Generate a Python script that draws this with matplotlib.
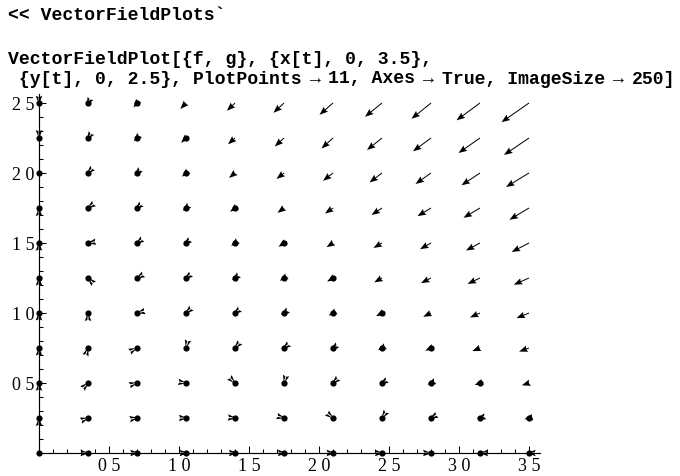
import numpy as np
import matplotlib
matplotlib.use("Agg")
import matplotlib.pyplot as plt
from matplotlib.ticker import FixedLocator, NullFormatter

# ---------------- data ----------------
x_vals = [0.0, 0.35, 0.7, 1.05, 1.4, 1.75, 2.1, 2.45, 2.8, 3.15, 3.5]
y_vals = [0.0, 0.25, 0.5, 0.75, 1.0, 1.25, 1.5, 1.75, 2.0, 2.25, 2.5]

# horizontal component of each arrow (rows: y_vals, columns: x_vals)
U = [
    [0, 1.0, 1.8, 2.2, 2.5, 2.4, 2.1, 1.5, 0.6, -0.5, -1.9],
    [0, 0.8, 1.2, 1.5, 1.4, 1.1, 0.5, -0.4, -1.5, -2.9, -4.6],
    [0, 0.5, 0.7, 0.7, 0.4, -0.2, -1.1, -2.2, -3.6, -5.3, -7.2],
    [0, 0.2, 0.2, -0.1, -0.7, -1.6, -2.7, -4.1, -5.7, -7.7, -9.9],
    [0, 0.0, -0.4, -0.9, -1.8, -2.9, -4.3, -5.9, -7.8, -10.0, -12.5],
    [0, -0.3, -0.9, -1.7, -2.8, -4.2, -5.9, -7.8, -10.0, -12.4, -15.2],
    [0, -0.6, -1.4, -2.5, -3.9, -5.5, -6.5, -8.5, -11.0, -14.0, -17.3],
    [0, -0.8, -1.9, -3.3, -4.9, -6.5, -8.0, -10.5, -13.5, -16.5, -19.5],
    [0, -1.1, -2.5, -4.1, -6.0, -7.5, -10.0, -12.5, -15.5, -18.5, -23.0],
    [0, -1.4, -3.0, -4.9, -7.0, -9.2, -11.5, -15.0, -18.0, -21.5, -25.0],
    [0, -1.6, -3.5, -5.7, -8.1, -10.5, -13.5, -17.0, -19.5, -23.5, -27.5],
]
# vertical component of each arrow
V = [
    [0, 0, 0, 0, 0, 0, 0, 0, 0, 0, 0],
    [0.5, 0.3, 0.2, 0.0, -0.1, -0.3, -0.4, -0.6, -0.8, -0.9, -1.1],
    [0.8, 0.5, 0.2, -0.1, -0.4, -0.7, -1.0, -1.3, -1.6, -2.0, -2.3],
    [1.0, 0.6, 0.1, -0.4, -0.8, -1.3, -1.7, -2.2, -2.7, -3.1, -3.6],
    [1.1, 0.5, -0.1, -0.8, -1.4, -2.0, -2.6, -3.2, -3.8, -4.4, -5.1],
    [1.0, 0.3, -0.5, -1.3, -2.1, -2.8, -3.6, -4.4, -5.1, -5.9, -6.7],
    [0.8, -0.1, -1.0, -2.0, -2.9, -3.8, -4.2, -5.0, -6.2, -7.5, -9.0],
    [0.5, -0.6, -1.7, -2.8, -3.8, -4.9, -5.5, -7.0, -8.2, -9.8, -11.8],
    [0.0, -1.2, -2.5, -3.7, -4.9, -6.0, -7.8, -9.5, -11.0, -12.3, -14.0],
    [-0.6, -2.0, -3.4, -4.8, -6.3, -8.5, -10.5, -12.0, -13.3, -15.0, -17.0],
    [-1.4, -2.9, -4.5, -6.0, -7.8, -9.8, -11.8, -13.8, -15.8, -17.3, -19.2],
]

x_major = [0.5, 1.0, 1.5, 2.0, 2.5, 3.0, 3.5]
x_labels = ["0 5", "1 0", "1 5", "2 0", "2 5", "3 0", "3 5"]
y_major = [0.5, 1.0, 1.5, 2.0, 2.5]
y_labels = ["0 5", "1 0", "1 5", "2 0", "2 5"]

line1 = "<< VectorFieldPlots`"
line2 = "VectorFieldPlot[{f, g}, {x[t], 0, 3.5},"
line3_parts = [" {y[t], 0, 2.5}, PlotPoints", "11, Axes", "True, ImageSize", "250]"]
arrow_sym = "\u2192"

# ---------------- layout ----------------
W, H = 680, 476
fig = plt.figure(figsize=(W / 100, H / 100), dpi=100)
fig.patch.set_facecolor("white")

ox, oy = 39, 453          # pixel position of the origin
ppu = 140                 # pixels per data unit (both axes)
right_px, top_px = 540, 94
ax = fig.add_axes([ox / W, 1 - oy / H, (right_px - ox) / W, (oy - top_px) / H])
ax.set_xlim(0, (right_px - ox) / ppu)
ax.set_ylim(0, (oy - top_px) / ppu)
ax.patch.set_alpha(0)

for s in ("top", "right"):
    ax.spines[s].set_visible(False)
for s in ("left", "bottom"):
    ax.spines[s].set_linewidth(0.85)
    ax.spines[s].set_color("black")

minor = [round(0.1 * k, 2) for k in range(1, 36)]
ax.xaxis.set_major_locator(FixedLocator(x_major))
ax.xaxis.set_minor_locator(FixedLocator([m for m in minor if m not in x_major]))
ax.yaxis.set_major_locator(FixedLocator(y_major))
ax.yaxis.set_minor_locator(FixedLocator([m for m in minor if m <= 2.5 and m not in y_major]))
ax.set_xticklabels(x_labels)
ax.set_yticklabels(y_labels)
ax.xaxis.set_minor_formatter(NullFormatter())
ax.yaxis.set_minor_formatter(NullFormatter())
ax.tick_params(which="major", direction="in", length=4.8, width=0.75, pad=3.5,
               labelsize=13, colors="black")
ax.tick_params(which="minor", direction="in", length=2.6, width=0.75)
for lab in ax.get_xticklabels() + ax.get_yticklabels():
    lab.set_family("Liberation Serif")

# ---------------- vector field ----------------
X, Y = np.meshgrid(x_vals, y_vals)
Ua = np.array(U, dtype=float)
Va = np.array(V, dtype=float)
ax.quiver(X, Y, Ua, Va, angles="xy", scale_units="xy", scale=ppu, pivot="tail",
          units="dots", width=1.0, headwidth=6.5, headlength=8.5,
          headaxislength=7.5, minshaft=0, minlength=0.1, color="black",
          clip_on=False, zorder=3)
short = np.hypot(Ua, Va) < 7
ax.scatter(X[short], Y[short], s=20, color="black", linewidths=0,
           clip_on=False, zorder=4)

# ---------------- header code text ----------------
mono = dict(family=["Liberation Mono", "DejaVu Sans Mono"], weight="bold",
            fontsize=13.1, va="center", ha="left", color="black")
fig.text(8 / W, 1 - 15 / H, line1, **mono)
fig.text(8 / W, 1 - 59 / H, line2, **mono)

renderer = fig.canvas.get_renderer()
y3 = 1 - 79 / H
x_start, x_end = 8.0, 675.0
tokens = []
for i, part in enumerate(line3_parts):
    tokens.append(part)
    if i < len(line3_parts) - 1:
        tokens.append(arrow_sym)
widths = []
for tok in tokens:
    t = fig.text(0, 0, tok, **mono)
    widths.append(t.get_window_extent(renderer).width)
    t.remove()
gap = (x_end - x_start - sum(widths)) / (2 * (len(line3_parts) - 1))
xpos = x_start
for tok, w in zip(tokens, widths):
    if tok == arrow_sym:
        xpos += gap
    fig.text(xpos / W, y3, tok, **mono)
    xpos += w
    if tok == arrow_sym:
        xpos += gap

fig.savefig("out.png", dpi=100, facecolor="white")
